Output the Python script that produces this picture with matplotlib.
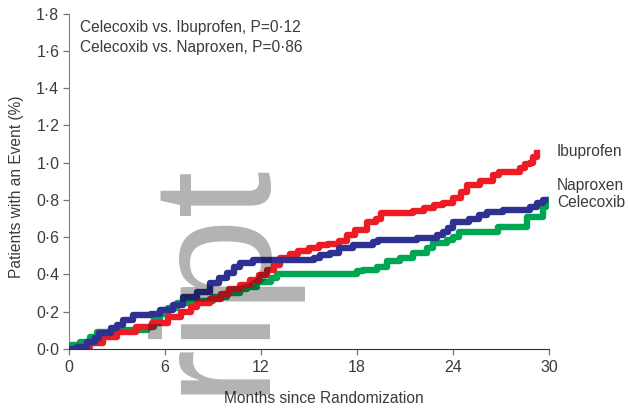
import matplotlib
matplotlib.use("Agg")
import matplotlib.pyplot as plt

plt.rcParams.update({
    "font.family": ["Liberation Sans", "DejaVu Sans"],
    "font.size": 11.2,
    "axes.spines.right": False,
    "axes.spines.top": False,
})

# cumulative event curves (month, % of patients)
ibu_t = [0, 0.7, 1.3, 2.1, 3.0, 4.2, 5.2, 6.2, 7.0, 7.6, 8.0, 8.8, 9.5, 10.0, 10.7,
         11.3, 11.9, 12.4, 12.8, 13.2, 13.8, 14.3, 15.0, 15.6, 16.2, 16.9, 17.4,
         17.9, 18.6, 19.2, 19.5, 21.5, 22.2, 22.8, 23.4, 24.0, 24.5, 24.9, 25.7,
         26.5, 26.9, 28.2, 28.5, 28.8, 29.0, 29.25]
ibu_v = [0, 0.01, 0.03, 0.065, 0.09, 0.12, 0.14, 0.17, 0.20, 0.225, 0.245, 0.27,
         0.295, 0.32, 0.345, 0.37, 0.395, 0.425, 0.45, 0.49, 0.51, 0.525, 0.54,
         0.56, 0.565, 0.58, 0.61, 0.64, 0.68, 0.70, 0.73, 0.74, 0.755, 0.77, 0.785,
         0.81, 0.84, 0.88, 0.90, 0.935, 0.95, 0.97, 0.99, 1.00, 1.03, 1.05]

nap_t = [0, 0.5, 1.1, 1.6, 1.9, 2.6, 3.0, 3.4, 4.0, 5.1, 5.7, 6.5, 7.1, 8.0, 8.8,
         9.4, 9.9, 10.3, 10.7, 11.5, 15.3, 15.7, 16.3, 16.9, 17.75, 19.0, 19.3,
         21.75, 23.0, 23.4, 23.7, 24.0, 25.0, 25.6, 26.1, 27.1, 28.8, 29.25, 29.6,
         29.75]
nap_v = [0, 0.01, 0.04, 0.06, 0.085, 0.11, 0.13, 0.155, 0.18, 0.19, 0.21, 0.235,
         0.28, 0.305, 0.355, 0.38, 0.41, 0.44, 0.46, 0.475, 0.49, 0.505, 0.515,
         0.54, 0.56, 0.575, 0.585, 0.595, 0.61, 0.63, 0.65, 0.68, 0.70, 0.72,
         0.735, 0.745, 0.76, 0.785, 0.80, 0.80]

cel_t = [0, 0.1, 0.7, 1.3, 1.75, 2.6, 4.9, 5.3, 5.7, 6.2, 6.75, 8.2, 9.0, 9.9,
         10.7, 11.1, 11.75, 12.6, 13.0, 18.0, 18.4, 19.25, 19.9, 20.7, 21.5,
         22.4, 22.75, 23.6, 24.0, 24.4, 26.8, 28.6, 29.6, 29.8, 30.0]
cel_v = [0, 0.02, 0.04, 0.065, 0.09, 0.10, 0.12, 0.16, 0.19, 0.22, 0.245, 0.26,
         0.28, 0.30, 0.32, 0.335, 0.36, 0.38, 0.40, 0.42, 0.425, 0.44, 0.47,
         0.49, 0.515, 0.54, 0.57, 0.585, 0.60, 0.63, 0.655, 0.71, 0.76, 0.78, 0.80]

x_ticks = [0, 6, 12, 18, 24, 30]
y_ticks = [0.0, 0.2, 0.4, 0.6, 0.8, 1.0, 1.2, 1.4, 1.6, 1.8]
y_labels = ["0·0", "0·2", "0·4", "0·6", "0·8", "1·0", "1·2", "1·4", "1·6", "1·8"]

W, H = 628, 409
txt = "#3c3c3c"

fig = plt.figure(figsize=(W / 100, H / 100), dpi=100)
ax = fig.add_axes([69 / W, 1 - 349 / H, 480 / W, 335.5 / H])

ax.step(cel_t, cel_v, where="post", color="#00A651", lw=4.6, zorder=3)
ax.step(ibu_t, ibu_v, where="post", color="#ED1C24", lw=4.6, zorder=4)
ax.step(nap_t, nap_v, where="post", color="#2E3192", lw=4.6, zorder=5)

ax.set_xlim(0, 30)
ax.set_ylim(0, 1.8)
ax.set_xticks(x_ticks)
ax.set_yticks(y_ticks, y_labels)
ax.tick_params(axis="both", direction="out", length=4, width=0.9, colors="#777777",
               labelcolor=txt, labelsize=11.5)
ax.tick_params(axis="y", pad=3)
ax.tick_params(axis="x", pad=4)
ax.spines["left"].set_color("#808080")
ax.spines["bottom"].set_color("#333333")
ax.spines["bottom"].set_zorder(6)

ax.set_ylabel("Patients with an Event (%)", color=txt, fontsize=11.2)
ax.yaxis.set_label_coords(-0.093, 0.485)
ax.set_xlabel("Months since Randomization", color=txt, fontsize=11.2)
ax.xaxis.set_label_coords(0.53, -0.125)


def px(x, y):
    return x / W, 1 - y / H


fig.text(*px(80, 32), "Celecoxib vs. Ibuprofen, P=0·12", color=txt, va="baseline")
fig.text(*px(80, 52), "Celecoxib vs. Naproxen, P=0·86", color=txt, va="baseline")
fig.text(*px(557, 156), "Ibuprofen", color=txt, va="baseline")
fig.text(*px(557, 190), "Naproxen", color=txt, va="baseline")
fig.text(*px(557, 207), "Celecoxib", color=txt, va="baseline")

# grey watermark lying across the plot
fig.text(*px(259, 158), "ript", fontsize=122, rotation=90, rotation_mode="anchor",
         ha="right", va="baseline", color="black", alpha=0.3, zorder=10)

fig.savefig("out.png", dpi=100)
